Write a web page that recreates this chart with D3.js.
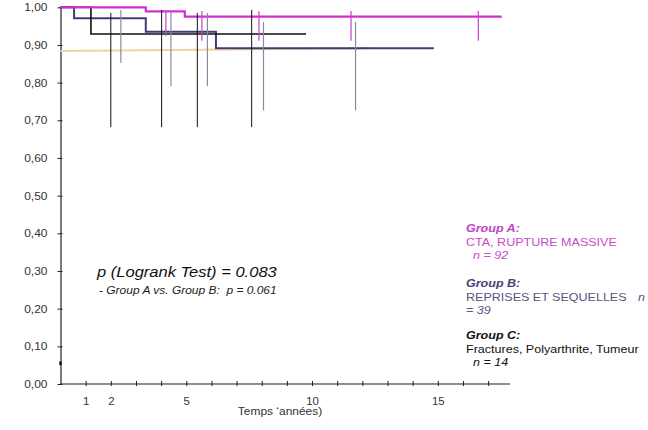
<!DOCTYPE html>
<html>
<head>
<meta charset="utf-8">
<script src="https://cdn.jsdelivr.net/npm/d3@7"></script>
<style>
  body { margin: 0; background: #fff; }
  svg { display: block; font-family: "Liberation Sans", Arial, sans-serif; }
  svg text { white-space: pre; }
</style>
</head>
<body>
<div id="chart"></div>
<script>
// survival curves, [time in years, survival]
const groupA = [[0, 1], [3.39, 0.989], [4.94, 0.975], [17.54, 0.975]];
const groupB = [[0, 1], [0.54, 0.971], [3.39, 0.935], [6.18, 0.891], [14.84, 0.891]];
const groupC = [[0, 1], [1.21, 0.929], [9.76, 0.929]];
const overall = [[0, 0.884], [12.3, 0.891]];

// censor marks: time, top and bottom of the mark (survival units)
const censorA = [
    { t: 4.19, hi: 0.990, lo: 0.924 },
    { t: 5.62, hi: 0.990, lo: 0.911 },
    { t: 7.89, hi: 0.990, lo: 0.911 },
    { t: 11.55, hi: 0.990, lo: 0.911 },
    { t: 16.61, hi: 0.990, lo: 0.911 }
];
const censorB = [
    { t: 2.40, hi: 0.993, lo: 0.852 },
    { t: 4.39, hi: 0.988, lo: 0.791 },
    { t: 5.84, hi: 0.985, lo: 0.791 },
    { t: 8.07, hi: 0.961, lo: 0.726 },
    { t: 11.73, hi: 0.961, lo: 0.726 }
];
const censorC = [
    { t: 2.0, hi: 0.985, lo: 0.682 },
    { t: 4.02, hi: 0.993, lo: 0.682 },
    { t: 5.44, hi: 0.985, lo: 0.682 },
    { t: 7.6, hi: 0.993, lo: 0.682 }
];

const yTicks = [0, 0.1, 0.2, 0.3, 0.4, 0.5, 0.6, 0.7, 0.8, 0.9, 1.0];
const xTicks = d3.range(1, 18);
const xLabels = [1, 2, 5, 10, 15];

const pMain = 'p (Logrank Test) = 0.083';
const pSub = '- Group A vs. Group B:  p = 0.061';
const xTitle = 'Temps \u2018ann\u00e9es)';

const legend = [
    { title: 'Group A:', line: 'CTA, RUPTURE MASSIVE', n: '  n = 92', color: '#c94bc9', titleColor: '#c23fc2' },
    { title: 'Group B:', line: 'REPRISES ET SEQUELLES', n: '= 39', color: '#55557f', titleColor: '#44447a' },
    { title: 'Group C:', line: 'Fractures, Polyarthrite, Tumeur', n: '  n = 14', color: '#111', titleColor: '#111' }
];

const W = 648, H = 430;
const sx = 1.14; // the picture is stretched horizontally

const svg = d3.select('#chart').append('svg')
    .attr('width', W)
    .attr('height', H);

const x = d3.scaleLinear().domain([0, 17.87]).range([60.5, 510]);
const y = d3.scaleLinear().domain([0, 1]).range([384, 7.3]);

const comma = d3.formatLocale({ decimal: ',', thousands: '.', grouping: [3], currency: ['', ''] }).format('.2f');

// y axis
const yAxis = svg.append('g')
    .attr('transform', `translate(${x(0)},0)`)
    .call(d3.axisLeft(y).tickValues(yTicks).tickFormat(comma).tickSize(3).tickSizeOuter(0));
yAxis.select('.domain').attr('stroke', '#222').attr('stroke-width', 1.2);
yAxis.selectAll('.tick line').attr('x1', 2).attr('stroke', '#222');
yAxis.selectAll('.tick text')
    .attr('x', -13 / sx)
    .attr('transform', `scale(${sx},1)`)
    .attr('fill', '#333')
    .style('font-size', '10.5px');

// x axis
const xAxis = svg.append('g')
    .attr('transform', `translate(0,${y(0)})`)
    .call(d3.axisBottom(x).tickValues(xTicks)
        .tickFormat(d => xLabels.includes(d) ? d : '')
        .tickSize(2).tickSizeOuter(0));
xAxis.select('.domain').attr('d', `M${x(0)},0H510`).attr('stroke', '#222').attr('stroke-width', 1.2);
xAxis.selectAll('.tick line').attr('y1', -3).attr('stroke', '#222');
xAxis.selectAll('.tick text')
    .attr('y', 13.5)
    .attr('x', 0)
    .attr('transform', `scale(${sx},1)`)
    .attr('fill', '#333')
    .style('font-size', '10px');

// small mark on the y axis near the bottom
svg.append('line')
    .attr('x1', x(0)).attr('x2', x(0))
    .attr('y1', y(0.06)).attr('y2', y(0.05))
    .attr('stroke', '#111').attr('stroke-width', 2.4);

function addText(str, px, py, opts) {
    return svg.append('text')
        .attr('transform', `translate(${px},${py}) scale(${sx},1)`)
        .attr('fill', opts.color || '#222')
        .style('font-size', opts.size + 'px')
        .style('font-style', opts.italic ? 'italic' : 'normal')
        .style('font-weight', opts.bold ? 'bold' : 'normal')
        .attr('text-anchor', opts.anchor || 'start')
        .text(str);
}

addText(xTitle, 280, 415, { size: 10.5, anchor: 'middle', color: '#333' });

// curves
const line = d3.line()
    .x(d => x(d[0]))
    .y(d => y(d[1]))
    .curve(d3.curveStepAfter);

svg.append('path')
    .datum(overall)
    .attr('d', d3.line().x(d => x(d[0])).y(d => y(d[1])))
    .attr('fill', 'none')
    .attr('stroke', '#f0d49c')
    .attr('stroke-width', 2);

function drawCurve(data, color, w) {
    svg.append('path')
        .datum(data)
        .attr('d', line)
        .attr('fill', 'none')
        .attr('stroke', color)
        .attr('stroke-width', w);
}

function drawCensor(data, color, w) {
    svg.append('g')
        .selectAll('line')
        .data(data)
        .join('line')
        .attr('x1', d => x(d.t))
        .attr('x2', d => x(d.t))
        .attr('y1', d => y(d.hi))
        .attr('y2', d => y(d.lo))
        .attr('stroke', color)
        .attr('stroke-width', w);
}

drawCurve(groupB, '#3c3c78', 2);
drawCurve(groupC, '#111', 1.6);
drawCurve(groupA, '#d22fd2', 2.2);

drawCensor(censorB, '#8a8aa2', 1.2);
drawCensor(censorC, '#111', 1);
drawCensor(censorA, '#c841c8', 1.2);

// logrank text
addText(pMain, 97, 277, { size: 14.5, italic: true, color: '#111' });
addText(pSub, 99, 294, { size: 10.5, italic: true, color: '#222' });

// legend
const legendY = [232, 287, 339];
legend.forEach((g, i) => {
    const by = legendY[i];
    addText(g.title, 466, by, { size: 11, italic: true, bold: true, color: g.titleColor });
    addText(g.line, 466, by + 13.5, { size: 11, color: g.color });
    addText(g.n, 466, by + 27, { size: 11, italic: true, color: g.color });
});
// group B's "n" wraps onto the end of the line above
addText('n', 638, legendY[1] + 13.5, { size: 11, italic: true, color: legend[1].color });
</script>
</body>
</html>
